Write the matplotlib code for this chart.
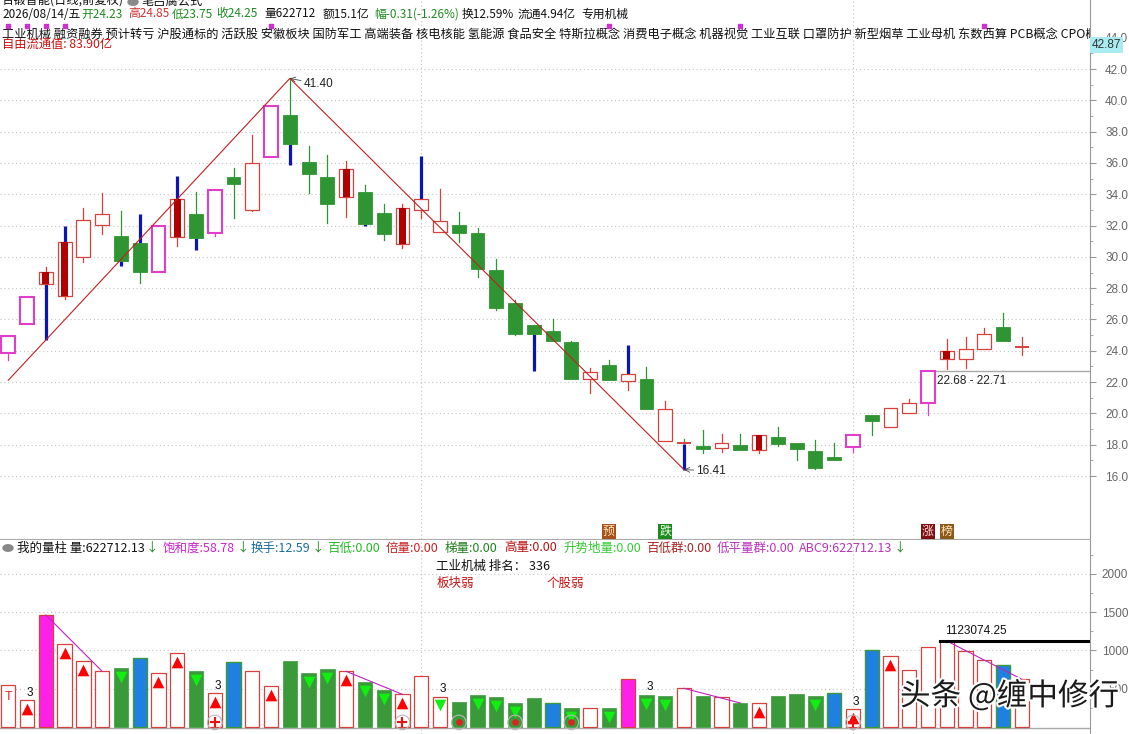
import numpy as np
import matplotlib
matplotlib.use('Agg')
import matplotlib.pyplot as plt
from matplotlib.patches import Rectangle
import matplotlib.patheffects as pe

plt.rcParams['font.family'] = ['Noto Sans CJK SC', 'DejaVu Sans']

# ---- daily candles (price, 前复权) ----
opens = [23.84, 25.69, 29.01, 30.93, 30.01, 32.01, 31.33, 30.88, 29.01, 33.68,
         32.74, 31.54, 35.10, 33.01, 36.40, 39.06, 36.06, 35.10, 35.61, 34.14,
         32.80, 33.10, 32.97, 31.57, 32.01, 31.50, 29.14, 27.05, 25.63, 25.24,
         24.56, 22.18, 23.09, 22.09, 22.20, 20.28, 18.04, 17.92, 17.79, 17.98,
         18.60, 18.49, 18.09, 17.60, 17.21, 17.85, 19.88, 19.11, 20.04, 20.64,
         23.99, 23.45, 24.09, 25.52, 24.23]
highs = [24.94, 27.42, 29.37, 31.99, 33.14, 34.08, 32.93, 32.74, 31.97, 35.18,
         34.16, 34.25, 35.69, 37.78, 39.62, 41.40, 37.08, 36.51, 36.12, 34.59,
         33.38, 33.38, 36.46, 34.35, 32.86, 31.84, 29.84, 27.24, 25.63, 26.03,
         24.64, 22.88, 23.41, 24.34, 22.96, 20.79, 18.34, 18.94, 18.66, 18.66,
         18.60, 19.13, 18.09, 18.30, 18.11, 18.60, 19.88, 20.32, 20.92, 22.71,
         24.75, 24.86, 25.45, 26.41, 24.85]
lows = [23.41, 25.69, 24.69, 27.29, 29.69, 31.48, 29.43, 28.35, 29.01, 30.69,
        30.44, 31.35, 32.46, 32.95, 36.40, 35.89, 34.08, 32.16, 32.53, 32.00,
        31.10, 30.58, 32.50, 31.57, 30.97, 28.73, 26.62, 25.03, 22.73, 24.64,
        22.22, 21.32, 22.15, 21.47, 20.30, 18.26, 16.41, 17.49, 17.55, 17.68,
        17.45, 17.94, 17.04, 16.47, 17.00, 17.55, 18.64, 19.11, 20.04, 19.88,
        22.82, 22.88, 24.09, 24.64, 23.75]
closes = [24.94, 27.42, 28.25, 27.52, 32.33, 32.72, 29.75, 29.05, 31.97, 31.25,
          31.23, 34.25, 34.67, 35.97, 39.62, 37.23, 35.31, 33.40, 33.80, 32.12,
          31.48, 30.84, 33.68, 32.27, 31.54, 29.20, 26.75, 25.09, 25.05, 24.64,
          22.22, 22.63, 22.15, 22.50, 20.30, 18.26, 18.08, 17.71, 18.13, 17.68,
          17.64, 18.06, 17.74, 16.53, 17.00, 18.60, 19.49, 20.32, 20.64, 22.71,
          23.45, 24.09, 25.05, 24.64, 24.25]
# u = red hollow, d = green, r = red with dark fill, m = magenta hollow
candle_style = list('mmrruuddmr' 'dmdumdddrd' 'druudddddd' 'dudududdud'
                    'rddddmduum' 'ruudu')
blue_up = [3, 7, 9, 22, 33]
blue_dn = [2, 6, 10, 15, 19, 28, 36]
top_dots = [0, 1, 2, 3, 14, 32, 39, 52]

# ---- volume (thousand shares) ----
volume = [548, 348, 1462, 1079, 857, 727, 770, 900, 700, 961,
          727, 440, 848, 727, 531, 861, 705, 757, 727, 583,
          483, 426, 665, 396, 326, 418, 392, 313, 378, 313,
          248, 244, 248, 622, 418, 405, 505, 409, 396, 313,
          309, 405, 431, 405, 444, 231, 1005, 922, 740, 1040,
          1123, 988, 870, 805, 623]
# u = red hollow, d = green, b = blue, m = magenta
vol_style = list('uumuuudbuu' 'dubuudddud' 'duuudddddb' 'dudmddudud'
                 'udddbubuuu' 'uuubu')
red_tri = [1, 3, 4, 8, 9, 11, 14, 18, 21, 40, 45, 47]
green_tri = [6, 10, 16, 17, 19, 20, 23, 25, 26, 27, 30, 32, 34, 35, 43]
three_marks = [1, 11, 23, 34, 45]
plus_marks = [11, 21, 45]
dot_marks = [24, 27, 30]
vol_links = [(2, 5), (18, 21), (36, 39), (50, 54)]

concepts = ['工业机械', '融资融券', '预计转亏', '沪股通标的', '活跃股', '安徽板块', '国防军工',
            '高端装备', '核电核能', '氢能源', '食品安全', '特斯拉概念', '消费电子概念', '机器视觉',
            '工业互联', '口罩防护', '新型烟草', '工业母机', '东数西算', 'PCB概念', 'CPO概念']

W, H = 1129, 734
RED = '#d8403c'
GREEN = '#2f9532'
MAG = '#e03ec8'
BLUE = '#0a14b8'
GRID = '#c4c4c4'

fig = plt.figure(figsize=(W / 100, H / 100), dpi=100)
fig.patch.set_facecolor('white')


def fx(x):
    return x / W


def fy(y):
    return 1 - y / H


ax_p = fig.add_axes([0, fy(539), fx(1090), 539 / H])
ax_v = fig.add_axes([0, 0, fx(1090), (H - 540) / H])

xlim = (-0.442, 57.63)
n = len(opens)

# ---- price panel ----
ax_p.set_xlim(*xlim)
ax_p.set_ylim(11.976, 46.41)
for v in range(16, 43, 2):
    ax_p.axhline(v, color=GRID, lw=0.8, ls=(0, (1, 2.5)), zorder=0)
for xv in (22, 45):
    ax_p.axvline(xv, color=GRID, lw=0.8, ls=(0, (1, 2.5)), zorder=0)

wick_col = {'u': RED, 'r': RED, 'm': MAG, 'd': GREEN}
bw = 0.74
for i in range(n):
    o, h, l, c, st = opens[i], highs[i], lows[i], closes[i], candle_style[i]
    top, bot = max(o, c), min(o, c)
    col = wick_col[st]
    if h > top:
        if i in blue_up:
            ax_p.plot([i, i], [top, h], color=BLUE, lw=2.3, solid_capstyle='butt', zorder=2)
        else:
            ax_p.plot([i, i], [top, h], color=col, lw=0.9, zorder=2)
    if l < bot:
        if i in blue_dn:
            ax_p.plot([i, i], [l, bot], color=BLUE, lw=2.3, solid_capstyle='butt', zorder=2)
        else:
            ax_p.plot([i, i], [l, bot], color=col, lw=0.9, zorder=2)
    if top - bot < 0.08:
        ax_p.plot([i - 0.33, i + 0.33], [c, c], color=RED, lw=1.4, zorder=3)
    elif st == 'd':
        ax_p.add_patch(Rectangle((i - bw / 2, bot), bw, top - bot, facecolor=GREEN,
                                 edgecolor=GREEN, lw=0.6, zorder=3))
    elif st == 'm':
        ax_p.add_patch(Rectangle((i - bw / 2, bot), bw, top - bot, facecolor='white',
                                 edgecolor=MAG, lw=1.5, zorder=3))
    else:
        ax_p.add_patch(Rectangle((i - bw / 2, bot), bw, top - bot, facecolor='white',
                                 edgecolor=RED, lw=0.9, zorder=3))
        if st == 'r':
            ax_p.add_patch(Rectangle((i - 0.18, bot), 0.36, top - bot, facecolor='#b00000',
                                     edgecolor='none', zorder=4))

# zig-zag strokes
i_peak = int(np.argmax(highs))
i_low = int(np.argmin(lows))
slope = (highs[i_peak] - lows[2]) / (i_peak - 2)
ax_p.plot([0, i_peak, i_low], [lows[2] - 2 * slope, highs[i_peak], lows[i_low]],
          color='#c02020', lw=0.8, zorder=5)
ax_p.annotate(f'{highs[i_peak]:.2f}', xy=(i_peak, highs[i_peak]), xytext=(10, -4),
              textcoords='offset points', fontsize=8.5, color='#222', va='center',
              family='Liberation Sans',
              arrowprops=dict(arrowstyle='->', lw=0.6, color='#444', shrinkA=0, shrinkB=0))
ax_p.annotate(f'{lows[i_low]:.2f}', xy=(i_low, lows[i_low]), xytext=(9, -1),
              textcoords='offset points', fontsize=8.5, color='#222', va='center',
              family='Liberation Sans',
              arrowprops=dict(arrowstyle='->', lw=0.6, color='#444', shrinkA=0, shrinkB=0))

# gap line
ax_p.plot([49 + bw / 2, xlim[1]], [22.71, 22.71], color='#a8a8a8', lw=1, zorder=2)
ax_p.text(49 + 0.5, 22.71 - 0.25, '22.68 - 22.71', fontsize=8.5, color='#222',
          va='top', family='Liberation Sans')

# marks above
ax_p.scatter(top_dots, [44.75] * len(top_dots), marker='s', s=5, color='#cc33cc', zorder=6)

# signal tags
tags = [(32, '预', '#a5521b', '#ffe4b8'), (35, '跌', '#1d8a1d', '#e8ffe8'),
        (49, '涨', '#7b1111', '#ffd8d8'), (50, '榜', '#8b5a1b', '#ffe4b8')]
for xi, s, bg, fg in tags:
    ax_p.text(xi, 12.45, s, fontsize=8.6, color=fg, ha='center', va='center',
              bbox=dict(facecolor=bg, edgecolor='none', pad=0.9), zorder=6)

# concept line, clipped at the price axis
ax_p.text(0.002, 1 - 34 / 539, ' '.join(concepts),
          transform=ax_p.transAxes, fontsize=8.8, color='#111', va='center', clip_on=True)

ax_p.yaxis.tick_right()
yt = np.arange(16, 45, 2)
ax_p.set_yticks(yt)
ax_p.set_yticklabels([f'{v:.1f}' for v in yt], family='Liberation Sans', fontsize=8.5,
                     color='#666', ha='right')
ax_p.set_yticks(np.arange(17, 45, 2), minor=True)
ax_p.tick_params(axis='y', which='major', length=4, pad=23.4, colors='#999', labelcolor='#666')
ax_p.tick_params(axis='y', which='minor', length=2, colors='#999')
ax_p.set_xticks([])
for s in ('top', 'left'):
    ax_p.spines[s].set_visible(False)
ax_p.spines['right'].set_color('#999')
ax_p.spines['bottom'].set_color('#aaa')

# ---- volume panel ----
ax_v.set_xlim(*xlim)
ax_v.set_ylim(-91, 2440)
for v in (500, 1000, 1500, 2000):
    ax_v.axhline(v, color=GRID, lw=0.8, ls=(0, (1, 2.5)), zorder=0)
for xv in (22, 45):
    ax_v.axvline(xv, color=GRID, lw=0.8, ls=(0, (1, 2.5)), zorder=0)
ax_v.axhline(-15, color='#aaa', lw=1, zorder=1)

vw = 0.76
for i in range(n):
    v, st = volume[i], vol_style[i]
    if st == 'u':
        ax_v.add_patch(Rectangle((i - vw / 2, 0), vw, v, facecolor='white', edgecolor=RED,
                                 lw=0.9, zorder=2))
    elif st == 'd':
        ax_v.add_patch(Rectangle((i - vw / 2, 0), vw, v, facecolor='#3a9a3a',
                                 edgecolor='#3a9a3a', lw=0.5, zorder=2))
    elif st == 'b':
        ax_v.add_patch(Rectangle((i - vw / 2, 0), vw, v, facecolor='#1f80e0',
                                 edgecolor='#3a9a3a', lw=1.0, zorder=2))
    else:
        ax_v.add_patch(Rectangle((i - vw / 2, 0), vw, v, facecolor='#ff20e8', edgecolor=RED,
                                 lw=0.9, zorder=2))

ax_v.scatter(red_tri, [volume[i] - 112 for i in red_tri], marker='^', s=70,
             color='#ff0000', zorder=3, linewidths=0)
ax_v.scatter(green_tri, [volume[i] - 112 for i in green_tri], marker='v', s=70,
             color='#12ee12', zorder=3, linewidths=0)
for i in three_marks:
    ax_v.text(i + 0.15, volume[i] + 20, '3', fontsize=8.5, ha='center', va='bottom',
              color='#111', family='Liberation Sans', zorder=4)
ax_v.scatter(plus_marks + dot_marks, [60] * (len(plus_marks) + len(dot_marks)), marker='o',
             s=110, facecolor='none', edgecolor='#b8b8b8', lw=0.8, zorder=4)
ax_v.scatter(plus_marks, [60] * len(plus_marks), marker='+', s=45, color='#ee1111', lw=1.5,
             zorder=5)
ax_v.scatter(dot_marks, [60] * len(dot_marks), marker='o', s=14, color='#dd2222', zorder=5)
ax_v.text(0, 395, 'T', fontsize=9, color='#e02020', ha='center', va='center',
          family='Liberation Sans')
for a, b in vol_links:
    ax_v.plot([a, b], [volume[a], volume[b]], color='#c020c0', lw=0.8, zorder=5)

imax = int(np.argmax(volume[40:])) + 40
ax_v.plot([imax - 0.35, xlim[1]], [volume[imax]] * 2, color='black', lw=2.2, zorder=5)
ax_v.text(imax - 0.1, volume[imax] + 45, '1123074.25', fontsize=8.5, color='#111',
          va='bottom', family='Liberation Sans', zorder=6)

ax_v.yaxis.tick_right()
vt = [500, 1000, 1500, 2000]
ax_v.set_yticks(vt)
ax_v.set_yticklabels([str(v) for v in vt], family='Liberation Sans', fontsize=8.5,
                     color='#666', ha='right')
ax_v.set_yticks([250, 750, 1250, 1750, 2250], minor=True)
ax_v.tick_params(axis='y', which='major', length=4, pad=23.4, colors='#999', labelcolor='#666')
ax_v.tick_params(axis='y', which='minor', length=2, colors='#999')
ax_v.set_xticks([])
for s in ('top', 'left', 'bottom'):
    ax_v.spines[s].set_visible(False)
ax_v.spines['right'].set_color('#999')

ax_v.text(22.8, 2100, '工业机械 排名： 336', fontsize=9, color='#111', va='center')
ax_v.text(22.8, 1880, '板块弱', fontsize=9, color='#cc1111', va='center')
ax_v.text(28.7, 1880, '个股弱', fontsize=9, color='#cc1111', va='center')

# ---- header texts ----
fig.text(fx(2), fy(1), '合锻智能(日线,前复权)', fontsize=8.8, color='#111', va='center')
fig.patches.append(plt.Circle((fx(133), fy(2)), 5 / W, transform=fig.transFigure,
                              color='#888'))
fig.text(fx(142), fy(1), '笔吕腐公式', fontsize=8.8, color='#111', va='center')

line2 = [(2, '2026/08/14/五', '#111'), (81, '开24.23', '#1f8a1f'), (128, '高24.85', '#d03030'),
         (172, '低23.75', '#1f8a1f'), (216, '收24.25', '#1f8a1f'), (264, '量622712', '#111'),
         (323, '额15.1亿', '#111'), (374, '幅-0.31(-1.26%)', '#1f8a1f'),
         (462, '换12.59%', '#111'), (518, '流通4.94亿', '#111'), (581, '专用机械', '#111')]
for x, s, c in line2:
    fig.text(fx(x), fy(14), s, fontsize=8.5, color=c, va='center')
fig.text(fx(2), fy(44), '自由流通值: 83.90亿', fontsize=8.8, color='#cc1111', va='center')

fig.text(fx(1092), fy(45), '42.87', fontsize=8.5, color='#333', va='center',
         family='Liberation Sans',
         bbox=dict(facecolor='#a8ecf2', edgecolor='none', pad=1.2))

fig.patches.append(plt.Circle((fx(8), fy(548)), 5 / W, transform=fig.transFigure,
                              color='#888'))
line_v = [(17, '我的量柱 量:622712.13', '#111', True), (163, '饱和度:58.78', '#cc22cc', True),
          (251, '换手:12.59', '#1a6fa0', True), (327, '百低:0.00', '#22bb22', False),
          (386, '倍量:0.00', '#cc2222', False), (445, '梯量:0.00', '#208020', False),
          (504, '高量:0.00', '#bb1111', False), (563, '升势地量:0.00', '#33cc33', False),
          (646, '百低群:0.00', '#aa2222', False), (717, '低平量群:0.00', '#bb33bb', False),
          (799, 'ABC9:622712.13', '#bb33bb', True)]
arrow_after = []
for x, s, c, arr in line_v:
    t = fig.text(fx(x), fy(548), s, fontsize=9, color=c, va='center')
    if arr:
        arrow_after.append(t)
fig.canvas.draw()
rend = fig.canvas.get_renderer()
for t in arrow_after:
    bb = t.get_window_extent(rend)
    fig.text((bb.x1 + 1) / W, fy(548), '↓', fontsize=9, color='#1f8a1f', va='center')

fig.text(fx(900), fy(696), '头条 @缠中修行', fontsize=22, color='#1a1a1a', va='center',
         path_effects=[pe.withStroke(linewidth=3, foreground='white')])

fig.savefig('out.png', dpi=100)
